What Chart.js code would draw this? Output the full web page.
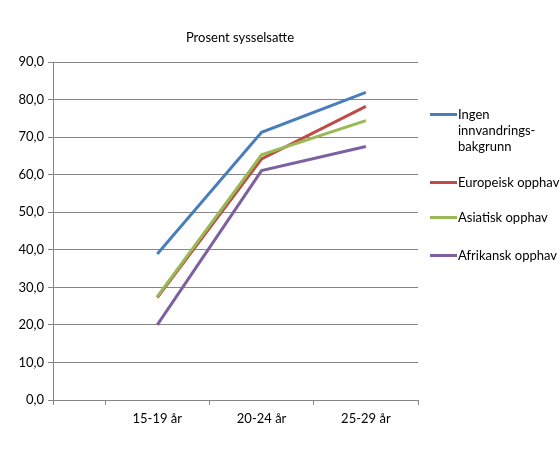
<!DOCTYPE html>
<html>
<head>
<meta charset="utf-8">
<script src="https://cdn.jsdelivr.net/npm/chart.js@4.4.0/dist/chart.umd.min.js"></script>
<style>
  body { margin: 0; background: #fff; }
  .wrap { position: relative; width: 560px; height: 450px; }
  #legend { position: absolute; left: 430px; top: 106px; font-family: Lato, sans-serif; font-size: 13px; color: #000; }
  .item { position: absolute; left: 0; width: 130px; }
  .item .sw { position: absolute; left: 0; top: 7px; width: 27px; height: 3px; }
  .item .tx { position: absolute; left: 28px; top: 0; line-height: 16px; white-space: nowrap; }
</style>
</head>
<body>
<div class="wrap">
  <canvas id="chart" width="560" height="450"></canvas>
  <div id="legend"></div>
</div>
<script>
const title = "Prosent sysselsatte";
const categories = ["15-19 år", "20-24 år", "25-29 år"];
const seriesNames = ["Ingen innvandrings-bakgrunn", "Europeisk opphav", "Asiatisk opphav", "Afrikansk opphav"];
const ingen = [38.9, 71.3, 81.9];
const europeisk = [27.3, 64.2, 78.2];
const asiatisk = [27.5, 65.3, 74.4];
const afrikansk = [20.0, 61.1, 67.5];
const colors = ["#4a7ebb", "#be4b48", "#98b954", "#7d60a0"];
const yTicks = [0, 10, 20, 30, 40, 50, 60, 70, 80, 90];

const allSeries = [ingen, europeisk, asiatisk, afrikansk];
// points sit on whole numbers, category borders on halves
const toPoints = (vals) => vals.map((v, i) => ({ x: i + 1, y: v }));

const titlePlugin = {
  id: "titleText",
  afterDraw(chart) {
    const ctx = chart.ctx;
    ctx.save();
    ctx.font = "13px Lato";
    ctx.fillStyle = "#000";
    ctx.textAlign = "center";
    ctx.textBaseline = "middle";
    ctx.fillText(title, 240, 38);
    ctx.restore();
  }
};

new Chart(document.getElementById("chart"), {
  type: "line",
  data: {
    datasets: allSeries.map((vals, i) => ({
      label: seriesNames[i],
      data: toPoints(vals),
      borderColor: colors[i],
      backgroundColor: colors[i],
      borderWidth: 3,
      pointRadius: 0,
      tension: 0,
      order: allSeries.length - i // later series on top, like excel
    }))
  },
  options: {
    responsive: false,
    animation: false,
    layout: { padding: { top: 62, right: 142, left: 0, bottom: 0 } },
    plugins: { legend: { display: false }, tooltip: { enabled: false } },
    scales: {
      x: {
        type: "linear",
        min: 0,
        max: 3.5,
        afterBuildTicks: (s) => { s.ticks = [0, 0.5, 1, 1.5, 2, 2.5, 3, 3.5].map(v => ({ value: v })); },
        afterFit: (s) => { s.height = 50; },
        ticks: {
          autoSkip: false,
          maxRotation: 0,
          padding: 6,
          font: { family: "Lato", size: 13 },
          color: "#000",
          callback: (v) => Number.isInteger(v) && v > 0 ? categories[v - 1] : ""
        },
        grid: {
          drawOnChartArea: false,
          tickLength: 5,
          color: (c) => (c.tick && Number.isInteger(c.tick.value) && c.tick.value > 0) ? "rgba(0,0,0,0)" : "#868686"
        },
        border: { color: "#868686" }
      },
      y: {
        min: 0,
        max: 90,
        afterBuildTicks: (s) => { s.ticks = yTicks.map(v => ({ value: v })); },
        afterFit: (s) => { s.width = 53; },
        ticks: {
          padding: 4,
          font: { family: "Lato", size: 13 },
          color: "#000",
          callback: (v) => v.toFixed(1).replace(".", ",")
        },
        grid: { color: "#868686", tickLength: 5 },
        border: { color: "#868686" }
      }
    }
  },
  plugins: [titlePlugin]
});

// legend as html, built from the series names
const legendTops = [0, 68, 103, 141];
const legendText = [["Ingen", "innvandrings-", "bakgrunn"], ["Europeisk opphav"], ["Asiatisk opphav"], ["Afrikansk opphav"]];
const legend = document.getElementById("legend");
seriesNames.forEach((name, i) => {
  const d = document.createElement("div");
  d.className = "item";
  d.style.top = legendTops[i] + "px";
  d.innerHTML = '<div class="sw" style="background:' + colors[i] + '"></div><div class="tx">' + legendText[i].join("<br>") + "</div>";
  legend.appendChild(d);
});
</script>
</body>
</html>
